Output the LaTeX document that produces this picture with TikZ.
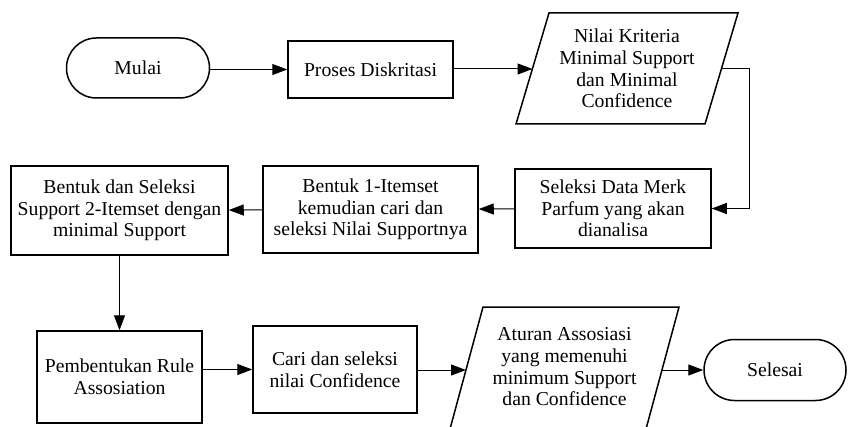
\documentclass[tikz,border=0pt]{standalone}
\usepackage{fontspec}
\setmainfont{Liberation Serif}
\usetikzlibrary{shapes.misc,arrows.meta}

\begin{document}
\begin{tikzpicture}[x=1pt,y=-1pt,
    every node/.style={font=\fontsize{19.7}{21.7}\selectfont, align=center, inner sep=2pt, line width=1.5pt},
    proc/.style={draw, rectangle},
    term/.style={draw, rounded rectangle, minimum width=147pt, minimum height=60pt},
    jajar/.style={line width=1.5pt, line join=miter},
    arr/.style={-{Triangle[length=15pt,width=11pt]}, line width=1pt}]

  \useasboundingbox (0,0) rectangle (850,427);

  % first row
  \node[term] (mulai) at (138,68) {Mulai};
  \node[proc, minimum width=165pt, minimum height=57pt] (diskrit) at (370.5,69.5) {Proses Diskritasi};
  \node (kriteria) at (627,68.5) {Nilai Kriteria\\Minimal Support\\dan Minimal\\Confidence};
  \draw[jajar] (516,124) -- (549,13) -- (738,13) -- (705,124) -- cycle;
  \coordinate (kriteria-w) at (532.5,69);
  \coordinate (kriteria-e) at (721.5,69);

  % second row
  \node[proc, minimum width=196pt, minimum height=79pt] (seleksi) at (613,208.5)
        {Seleksi Data Merk\\Parfum yang akan\\dianalisa};
  \node[proc, minimum width=215pt, minimum height=87pt] (satu) at (370.5,209.5)
        {Bentuk 1-Itemset\\kemudian cari dan\\seleksi Nilai Supportnya};
  \node[proc, minimum width=217pt, minimum height=89pt] (dua) at (119.5,210.5)
        {Bentuk dan Seleksi\\Support 2-Itemset dengan\\minimal Support};

  % third row
  \node[proc, minimum width=165pt, minimum height=92pt] (rule) at (119.5,377)
        {Pembentukan Rule\\Assosiation};
  \node[proc, minimum width=164pt, minimum height=87pt] (cari) at (335,369.5)
        {Cari dan seleksi\\nilai Confidence};
  \node (aturan) at (564.5,367) {Aturan Assosiasi\\yang memenuhi\\minimum Support\\dan Confidence};
  \draw[jajar] (450,429) -- (483,307) -- (679,307) -- (646,429) -- cycle;
  \coordinate (aturan-w) at (466,370);
  \coordinate (aturan-e) at (662,370);
  \node[term, minimum width=146pt, minimum height=61pt] (selesai) at (775,370) {Selesai};

  \coordinate (belok) at (749,69); % turn point right of the input box

  \draw[arr] (mulai.east |- diskrit) -- (diskrit);
  \draw[arr] (diskrit.east |- kriteria-w) -- (kriteria-w);
  \draw[arr] (kriteria-e) -- (belok) |- (seleksi.east);
  \draw[arr] (seleksi) -- (satu);
  \draw[arr] (satu) -- (dua);
  \draw[arr] (dua) -- (rule);
  \draw[arr] (rule.east |- cari.west) -- (cari.west);
  \draw[arr] (cari.east |- aturan-w) -- (aturan-w);
  \draw[arr] (aturan-e) -- (selesai.west);
\end{tikzpicture}
\end{document}
